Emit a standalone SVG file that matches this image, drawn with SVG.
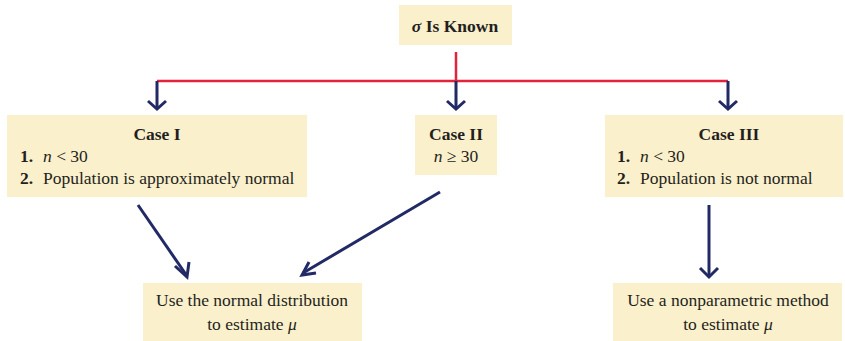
<svg xmlns="http://www.w3.org/2000/svg" width="845" height="341" viewBox="0 0 845 341">
<defs>
<style>
.box{fill:#fbf0cc}
text{font-family:"Liberation Serif","Times New Roman",serif;font-size:17.5px;fill:#231f20}
.b{font-weight:bold}
.c{text-anchor:middle}
.i{font-style:italic}
.red{stroke:#e3233b;stroke-width:2.5;fill:none}
.blue{stroke:#222a66;stroke-width:3;fill:none}
</style>
</defs>
<rect width="845" height="341" fill="#fff"/>
<g id="connectors">
<path class="red" d="M456,52 V81 M157,81 H728"/>
<path class="blue" d="M157,81 V107 M456,81 V107 M728,81 V107"/>
<path class="blue" d="M148,101 L157,109 L166,101 M447,101 L456,109 L465,101 M719,101 L728,109 L737,101"/>
<path class="blue" d="M138,205 L187,276"/>
<path class="blue" d="M175,266 L187,277 L189,262"/>
<path class="blue" d="M440,192 L303,273"/>
<path class="blue" d="M316,273 L302,275 L309,262"/>
<path class="blue" d="M709,205 V276"/>
<path class="blue" d="M700,268 L709,277 L718,268"/>
</g>
<g id="top">
<rect class="box" x="399" y="5" width="113" height="40"/>
<text class="b c" x="455" y="32"><tspan class="i">σ</tspan> Is Known</text>
</g>
<g id="case1">
<rect class="box" x="7" y="115" width="300" height="82"/>
<text class="b c" x="157" y="140">Case I</text>
<text class="b" x="20" y="162">1.</text>
<text x="43" y="162"><tspan class="i">n</tspan> &lt; 30</text>
<text class="b" x="20" y="184">2.</text>
<text x="43" y="184">Population is approximately normal</text>
</g>
<g id="case2">
<rect class="box" x="415" y="115" width="82" height="60"/>
<text class="b c" x="456" y="140">Case II</text>
<text class="c" x="456" y="162"><tspan class="i">n</tspan> ≥ 30</text>
</g>
<g id="case3">
<rect class="box" x="605" y="115" width="238" height="82"/>
<text class="b c" x="729" y="140">Case III</text>
<text class="b" x="617" y="162">1.</text>
<text x="640" y="162"><tspan class="i">n</tspan> &lt; 30</text>
<text class="b" x="617" y="184">2.</text>
<text x="640" y="184">Population is not normal</text>
</g>
<g id="normal">
<rect class="box" x="143" y="283" width="219" height="58"/>
<text class="c" x="252" y="306">Use the normal distribution</text>
<text class="c" x="252" y="330">to estimate <tspan class="i">μ</tspan></text>
</g>
<g id="nonparam">
<rect class="box" x="613" y="283" width="229" height="58"/>
<text class="c" x="728" y="306">Use a nonparametric method</text>
<text class="c" x="728" y="330">to estimate <tspan class="i">μ</tspan></text>
</g>
</svg>
